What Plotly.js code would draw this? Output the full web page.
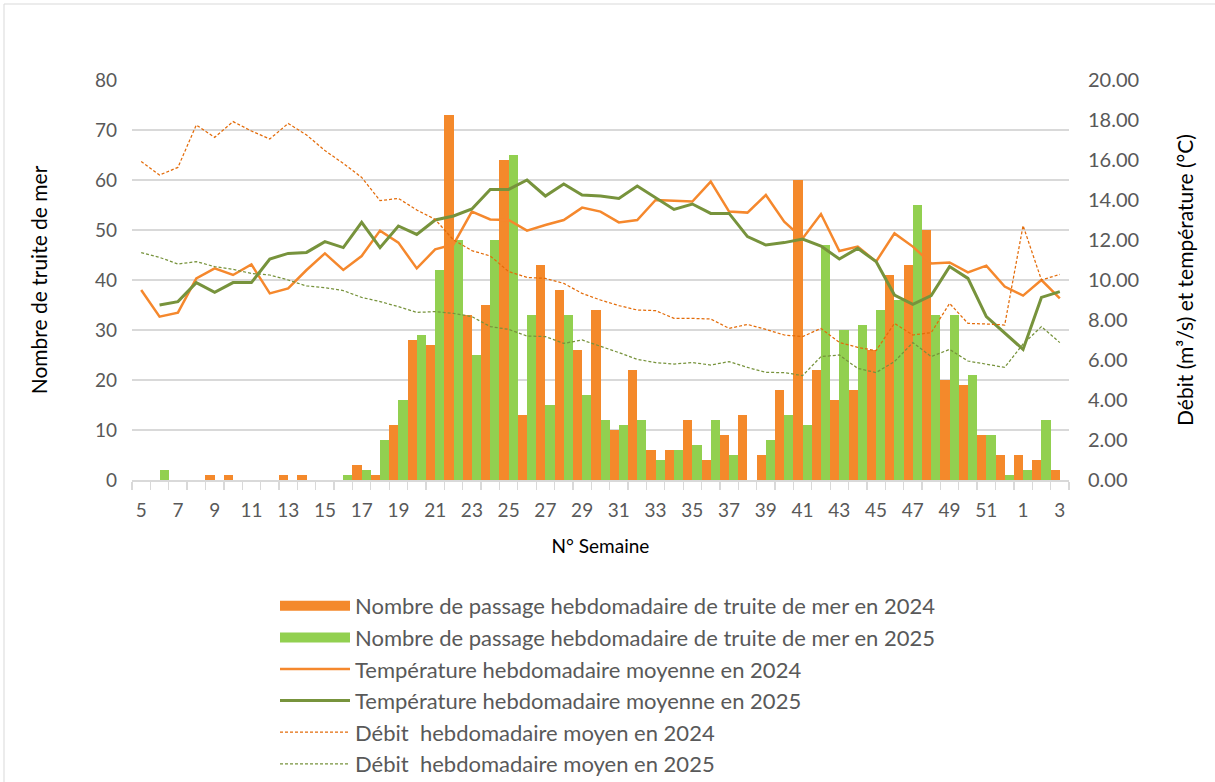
<!DOCTYPE html>
<html>
<head>
<meta charset="utf-8">
<script src="https://cdn.plot.ly/plotly-3.0.1.min.js"></script>
<style>
  html, body { margin:0; padding:0; background:#fff; }
  #chart { width:1215px; height:782px; }
</style>
</head>
<body>
<div id="chart"></div>
<script>
// Categories: week numbers
var weeks = ['5','6','7','8','9','10','11','12','13','14','15','16','17','18','19','20','21','22','23','24','25','26','27','28','29','30','31','32','33','34','35','36','37','38','39','40','41','42','43','44','45','46','47','48','49','50','51','52','1','2','3'];
// Tick labels (every other week shown)
var tickLabels = ['5','','7','','9','','11','','13','','15','','17','','19','','21','','23','','25','','27','','29','','31','','33','','35','','37','','39','','41','','43','','45','','47','','49','','51','','1','','3'];

// Weekly sea-trout passages
var passage2024 = [0,0,0,0,1,1,0,0,1,1,0,0,3,1,11,28,27,73,33,35,64,13,43,38,26,34,10,22,6,6,12,4,9,13,5,18,60,22,16,18,26,41,43,50,20,19,9,5,5,4,2];
var passage2025 = [0,2,0,0,0,0,0,0,0,0,0,1,2,8,16,29,42,48,25,48,65,33,15,33,17,12,11,12,4,6,7,12,5,0,8,13,11,47,30,31,34,36,55,33,33,21,9,1,2,12,0];

// Weekly mean temperature (°C)
var temp2024 = [9.5,8.17,8.37,10.08,10.58,10.25,10.78,9.33,9.58,10.5,11.33,10.5,11.2,12.47,11.87,10.58,11.53,11.78,13.42,13.03,13.0,12.47,12.75,13.0,13.62,13.42,12.88,13.0,14.0,13.97,13.92,14.92,13.42,13.37,14.25,12.92,12.08,13.3,11.45,11.67,10.92,12.33,11.67,10.83,10.88,10.38,10.72,9.67,9.22,10.0,9.08];
var temp2025 = [null,8.75,8.92,9.87,9.38,9.87,9.87,11.05,11.33,11.38,11.92,11.62,12.88,11.62,12.7,12.28,13.0,13.2,13.55,14.53,14.53,15.0,14.2,14.8,14.25,14.2,14.08,14.7,14.13,13.53,13.8,13.33,13.33,12.17,11.75,11.87,12.05,11.7,11.05,11.58,10.92,9.25,8.78,9.22,10.67,10.08,8.17,7.37,6.53,9.13,9.42];

// Weekly mean flow (m³/s)
var debit2024 = [15.92,15.25,15.63,17.75,17.13,17.92,17.45,17.05,17.83,17.25,16.47,15.83,15.13,13.97,14.08,13.5,13.03,12.0,11.47,11.2,10.42,10.13,10.08,9.83,9.33,9.0,8.72,8.5,8.47,8.08,8.08,8.05,7.58,7.78,7.53,7.25,7.17,7.58,6.88,6.63,6.47,7.83,7.25,7.37,8.83,7.83,7.8,7.75,12.72,10.0,10.28];
var debit2025 = [11.37,11.13,10.8,10.92,10.67,10.53,10.33,10.25,10.0,9.7,9.62,9.47,9.13,8.92,8.67,8.38,8.42,8.33,8.17,7.67,7.53,7.2,7.17,6.83,7.0,6.7,6.37,6.03,5.87,5.8,5.87,5.75,5.92,5.63,5.38,5.37,5.22,6.17,6.25,5.58,5.37,5.92,6.87,6.17,6.53,5.95,5.8,5.63,6.8,7.67,6.87];

var seriesNames = [
  'Nombre de passage hebdomadaire de truite de mer en 2024',
  'Nombre de passage hebdomadaire de truite de mer en 2025',
  'Température hebdomadaire moyenne en 2024',
  'Température hebdomadaire moyenne en 2025',
  'Débit  hebdomadaire moyen en 2024',
  'Débit  hebdomadaire moyen en 2025'
];

var cOrange = '#F4892B', cGreen = '#92D050', cOlive = '#77933C', cDashOrange = '#E36C0A', cTemp24 = '#F5882D';

var data = [
  {type:'bar', x:weeks, y:passage2024, name:seriesNames[0], marker:{color:cOrange}, showlegend:false},
  {type:'bar', x:weeks, y:passage2025, name:seriesNames[1], marker:{color:cGreen}, showlegend:false},
  // legend swatches for the bar series (wide rectangles, as in the original legend)
  {type:'scatter', mode:'lines', x:[weeks[0]], y:[null], name:seriesNames[0], line:{color:cOrange, width:17}, legendrank:1, hoverinfo:'skip'},
  {type:'scatter', mode:'lines', x:[weeks[0]], y:[null], name:seriesNames[1], line:{color:cGreen, width:17}, legendrank:2, hoverinfo:'skip'},
  {type:'scatter', mode:'lines', x:weeks, y:temp2024, name:seriesNames[2], yaxis:'y2', line:{color:cTemp24, width:2.5}, legendrank:3},
  {type:'scatter', mode:'lines', x:weeks, y:temp2025, name:seriesNames[3], yaxis:'y2', line:{color:cOlive, width:3}, legendrank:4},
  {type:'scatter', mode:'lines', x:weeks, y:debit2024, name:seriesNames[4], yaxis:'y2', line:{color:cDashOrange, width:1.25, dash:'3px,2px'}, legendrank:5},
  {type:'scatter', mode:'lines', x:weeks, y:debit2025, name:seriesNames[5], yaxis:'y2', line:{color:cOlive, width:1.25, dash:'3px,2px'}, legendrank:6}
];

var L = 132, R = 1069, T = 80, B = 480;
var pw = R - L, ph = B - T;
function px(x){ return (x - L) / pw; }
function py(y){ return (B - y) / ph; }

var layout = {
  width:1215, height:782,
  margin:{l:L, r:1215-R, t:T, b:782-B, pad:0},
  paper_bgcolor:'#ffffff', plot_bgcolor:'#ffffff',
  font:{family:'Lato, "Open Sans", sans-serif', size:19, color:'#595959'},
  barmode:'group', bargap:0, bargroupgap:0,
  showlegend:true,
  xaxis:{
    type:'category', range:[-0.5, 50.5],
    tickmode:'array', tickvals:weeks, ticktext:tickLabels,
    tickson:'boundaries', ticks:'outside', ticklen:8, tickcolor:'#D9D9D9', tickwidth:1.3,
    showline:true, linecolor:'#D9D9D9', linewidth:1.5,
    showgrid:false, zeroline:false,
    tickangle:0,
    ticklabelstandoff:13,
    tickfont:{size:19, color:'#595959'},
    title:{text:'N° Semaine', font:{size:19, color:'#000000'}, standoff:19}
  },
  yaxis:{
    range:[0,80], dtick:10, tick0:0,
    showgrid:true, gridcolor:'#D9D9D9', gridwidth:1.5,
    zeroline:false, showline:false, ticks:'',
    ticklabelstandoff:14,
    tickfont:{size:19, color:'#595959'},
    title:{text:'Nombre de truite de mer', font:{size:21, color:'#000000'}, standoff:41}
  },
  yaxis2:{
    overlaying:'y', side:'right', anchor:'x',
    range:[0,20], dtick:2, tick0:0, tickformat:'.2f',
    showgrid:false, zeroline:false, showline:false, ticks:'',
    ticklabelstandoff:18,
    tickfont:{size:20, color:'#595959'},
    title:{text:'Débit (m³/s) et température (°C)', font:{size:21, color:'#000000'}, standoff:40}
  },
  legend:{
    xref:'paper', yref:'container',
    x:px(275), y:1-585/782, xanchor:'left', yanchor:'top',
    orientation:'v', traceorder:'normal',
    itemwidth:70,
    font:{size:22, color:'#595959'},
    bgcolor:'rgba(0,0,0,0)'
  },
  shapes:[
    {type:'rect', xref:'paper', yref:'paper', x0:px(4), x1:px(1230), y0:py(4), y1:py(800), line:{color:'#D9D9D9', width:1}, fillcolor:'rgba(0,0,0,0)', layer:'below'}
  ]
};

Plotly.newPlot('chart', data, layout, {displayModeBar:false, staticPlot:true});
</script>
</body>
</html>
